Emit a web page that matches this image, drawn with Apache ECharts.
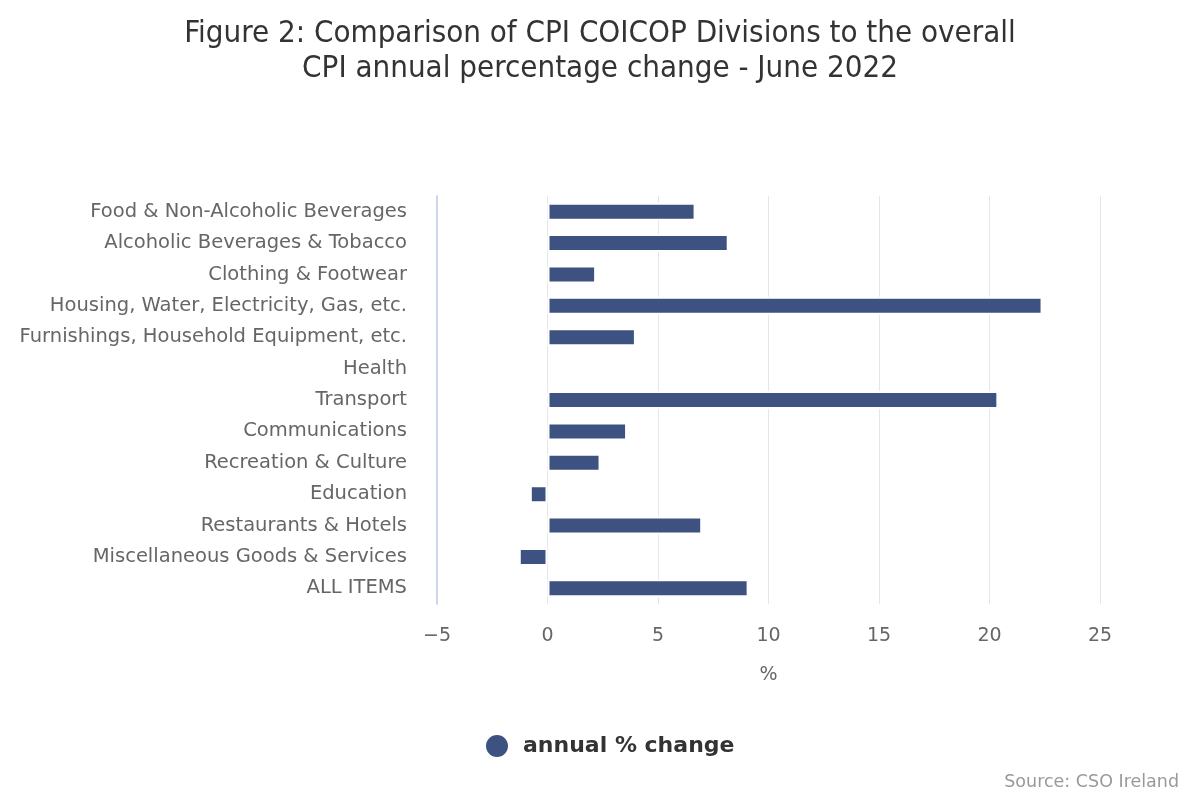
<!DOCTYPE html>
<html>
<head>
<meta charset="utf-8">
<script src="https://cdn.jsdelivr.net/npm/echarts@6/dist/echarts.min.js"></script>
<style>html,body{margin:0;padding:0;background:#fff}#c{width:1200px;height:800px}</style>
</head>
<body>
<div id="c"></div>
<script>
const categories = [
  "Food & Non-Alcoholic Beverages",
  "Alcoholic Beverages & Tobacco",
  "Clothing & Footwear",
  "Housing, Water, Electricity, Gas, etc.",
  "Furnishings, Household Equipment, etc.",
  "Health",
  "Transport",
  "Communications",
  "Recreation & Culture",
  "Education",
  "Restaurants & Hotels",
  "Miscellaneous Goods & Services",
  "ALL ITEMS"
];
const annualChange = [6.7, 8.2, 2.2, 22.4, 4.0, 0.0, 20.4, 3.6, 2.4, -0.8, 7.0, -1.3, 9.1];
const seriesName = "annual % change";
const titleLines = ["Figure 2: Comparison of CPI COICOP Divisions to the overall", "CPI annual percentage change - June 2022"];
const axisName = "%";
const sourceText = "Source: CSO Ireland";

const FONT = "DejaVu Sans";
const barData = annualChange.map(v => v === 0 ? {value: v, itemStyle: {borderWidth: 0}} : v);
const chart = echarts.init(document.getElementById('c'), null, {renderer: 'canvas'});
chart.setOption({
  animation: false,
  backgroundColor: '#ffffff',
  title: {
    text: titleLines.join('\n'),
    left: 'center',
    top: 11,
    textStyle: {fontFamily: "DejaVu Sans Condensed, " + FONT, fontSize: 31, fontWeight: 'normal', color: '#333333', lineHeight: 35}
  },
  grid: {left: 437, right: 100, top: 196, bottom: 196, containLabel: false},
  legend: {
    bottom: 41,
    left: 484,
    padding: 0,
    icon: 'circle',
    itemWidth: 24,
    itemHeight: 24,
    itemGap: 10,
    textStyle: {fontFamily: FONT, fontSize: 22, fontWeight: 'bold', color: '#333333', padding: [0, 0, 0, 9]},
    data: [seriesName]
  },
  xAxis: {
    type: 'value',
    min: -5, max: 25, interval: 5,
    name: axisName,
    nameLocation: 'middle',
    nameGap: 62,
    nameTextStyle: {fontFamily: FONT, fontSize: 19, color: '#666666'},
    axisLine: {show: false},
    axisTick: {show: false},
    axisLabel: {fontFamily: FONT, fontSize: 19, color: '#666666', margin: 23,
      formatter: v => String(v).replace('-', '\u2212')},
    splitLine: {show: true, lineStyle: {color: '#e6e6e6', width: 1}}
  },
  yAxis: {
    type: 'category',
    inverse: true,
    data: categories,
    axisLine: {show: true, onZero: false, lineStyle: {color: '#ccd6eb', width: 2}},
    axisTick: {show: false},
    axisLabel: {fontFamily: FONT, fontSize: 19.5, color: '#666666', margin: 30},
    splitLine: {show: false}
  },
  series: [{
    name: seriesName,
    type: 'bar',
    data: barData,
    barWidth: 18,
    itemStyle: {color: '#3d5280', borderColor: '#ffffff', borderWidth: 2}
  }],
  graphic: [{
    type: 'text',
    right: 21,
    top: 773,
    style: {text: sourceText, fontFamily: FONT, fontSize: 17.5, fill: '#999999'}
  }]
});
</script>
</body>
</html>
